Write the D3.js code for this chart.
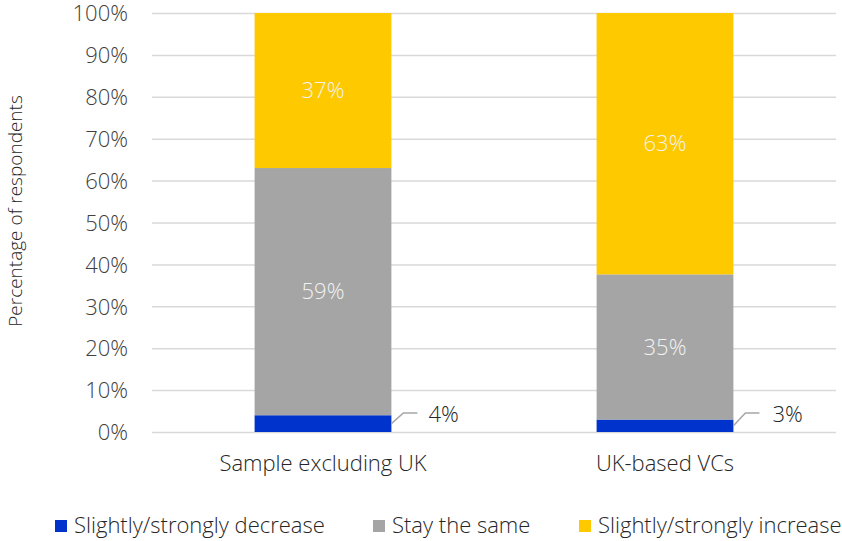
<!DOCTYPE html>
<html><head><meta charset="utf-8">
<script src="https://cdn.jsdelivr.net/npm/d3@7"></script>
<style>
body{margin:0;background:#fff;}
text{font-family:"Open Sans","Lato",sans-serif;font-weight:300;}
</style></head>
<body><svg id="c" width="842" height="541"></svg>
<script>
const categories = ["Sample excluding UK", "UK-based VCs"];
const seriesNames = ["Slightly/strongly decrease", "Stay the same", "Slightly/strongly increase"];
const decrease = [4, 3];
const same = [59, 35];
const increase = [37, 63];
const yTicks = [0,0.1,0.2,0.3,0.4,0.5,0.6,0.7,0.8,0.9,1];
const colors = ["#0033CC", "#A5A5A5", "#FFC900"];

const svg = d3.select("#c");
const m = {left:152, right:6, top:13, bottom:109};
const W = 842, H = 541;
const FS = "22px";
const x = d3.scaleBand().domain(categories).range([m.left, W-m.right]).paddingInner(0.6).paddingOuter(0.3);
const y = d3.scaleLinear().domain([0,1]).range([H-m.bottom, m.top]);

const rows = categories.map((c,i)=>({cat:c, [seriesNames[0]]:decrease[i], [seriesNames[1]]:same[i], [seriesNames[2]]:increase[i]}));
const stack = d3.stack().keys(seriesNames).offset(d3.stackOffsetExpand)(rows);

// gridlines + tick labels
const yAxis = d3.axisLeft(y).tickValues(yTicks).tickFormat(d3.format(".0%")).tickSize(-(W-m.left-m.right)).tickPadding(24);
const ga = svg.append("g").attr("transform",`translate(${m.left},0)`).call(yAxis);
ga.select(".domain").remove();
ga.selectAll("line").attr("stroke","#d9d9d9").attr("stroke-width",1.5);
ga.selectAll("text").attr("fill","#404040").style("font-size",FS).attr("dy","0.35em");

// bars
svg.append("g").selectAll("g").data(stack).join("g").attr("fill",(d,i)=>colors[i])
 .selectAll("rect").data(d=>d).join("rect")
 .attr("x",d=>x(d.data.cat)).attr("width",x.bandwidth())
 .attr("y",d=>y(d[1])).attr("height",d=>y(d[0])-y(d[1]));

// inside labels (series 1 and 2)
[1,2].forEach(si=>{
  const vals = si===1?same:increase;
  svg.append("g").selectAll("text").data(stack[si]).join("text")
   .attr("x",d=>x(d.data.cat)+x.bandwidth()/2)
   .attr("y",d=>(y(d[0])+y(d[1]))/2)
   .attr("dy","0.35em").attr("text-anchor","middle")
   .attr("fill","#f2f2f2").style("font-size",FS)
   .text((d,i)=>vals[i]+"%");
});

// outside labels for decrease with leader lines
const dg = svg.append("g");
stack[0].forEach((d,i)=>{
  const xr = x(d.data.cat)+x.bandwidth();
  const ym = (y(d[0])+y(d[1]))/2;
  const ly = y(0)-19;
  dg.append("polyline").attr("points",`${xr},${ym} ${xr+12},${ly} ${xr+26},${ly}`)
    .attr("fill","none").attr("stroke","#a6a6a6").attr("stroke-width",1.5);
  dg.append("text").attr("x",xr+37+i*2).attr("y",ly+1).attr("dy","0.35em")
    .attr("fill","#262626").style("font-size",FS).text(decrease[i]+"%");
});

// x axis labels
svg.append("g").selectAll("text").data(categories).join("text")
 .attr("x",d=>x(d)+x.bandwidth()/2).attr("y",463).attr("dy","0.35em")
 .attr("text-anchor","middle").attr("fill","#262626").style("font-size",FS).text(d=>d);

// y title
svg.append("text").attr("transform","translate(15,211) rotate(-90)").attr("text-anchor","middle")
 .attr("dy","0.35em").attr("fill","#262626").style("font-size","19px").text("Percentage of respondents");

// legend
const legX = [55, 373, 579];
const lg = svg.append("g");
seriesNames.forEach((s,i)=>{
  lg.append("rect").attr("x",legX[i]).attr("y",520).attr("width",12).attr("height",12).attr("fill",colors[i]);
  lg.append("text").attr("x",legX[i]+19).attr("y",525).attr("dy","0.35em").attr("fill","#262626").style("font-size",FS).text(s);
});
</script></body></html>
